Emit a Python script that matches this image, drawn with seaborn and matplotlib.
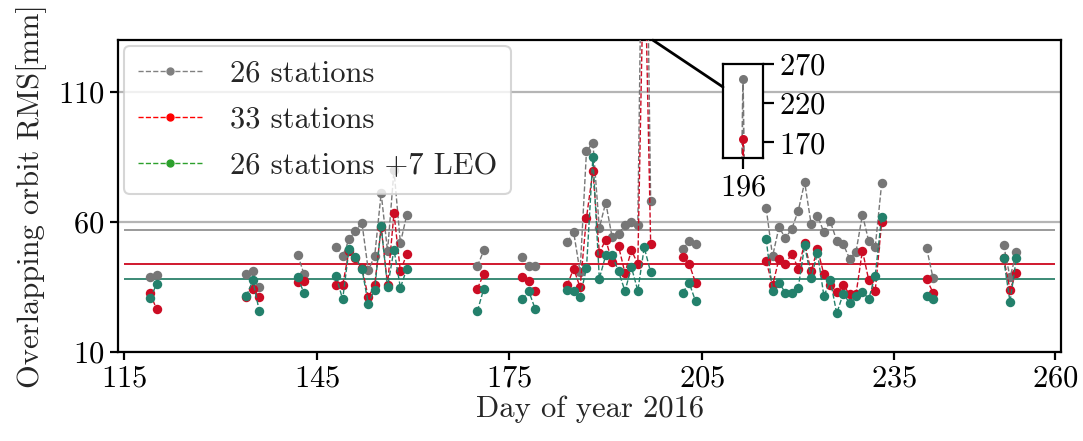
import numpy as np
import pandas as pd
import matplotlib
matplotlib.use("Agg")
import matplotlib.pyplot as plt
from matplotlib.patches import ConnectionPatch
from matplotlib.lines import Line2D
import seaborn as sns

# ---------------- data ----------------
days = [119, 120,
        134, 135, 136,
        142, 143,
        148, 149, 150, 151, 152, 153, 154, 155, 156, 157, 158, 159,
        170, 171,
        177, 178, 179,
        184, 185, 186, 187, 188, 189, 190, 191, 192, 193, 194, 195, 196, 197,
        202, 203, 204,
        215, 216, 217, 218, 219, 220, 221, 222, 223, 224, 225, 226, 227, 228, 229, 230, 231, 232, 233,
        240, 241,
        252, 253, 254]

rms_26 = [38.7, 39.5,
          39.8, 41.3, 34.8,
          47.4, 39.8,
          50.2, 46.8, 53.4, 56.4, 59.8, 41.4, 47.0, 71.1, 48.7, 80.0, 51.9, 62.8,
          43.0, 49.1,
          46.4, 43.0, 43.0,
          52.3, 56.1, 40.8, 87.3, 90.5, 57.7, 67.5, 54.1, 55.4, 58.9, 60.0, 58.9, 251.0, 68.2,
          49.7, 52.5, 51.5,
          65.3, 46.8, 58.0, 53.8, 57.4, 64.3, 75.3, 59.3, 62.5, 56.0, 60.2, 52.8, 51.5, 45.9, 48.5, 62.8, 52.5, 50.4, 74.9,
          50.0, 38.5,
          51.3, 38.7, 48.3]

rms_33 = [32.5, 26.5,
          31.1, 34.3, 31.1,
          37.0, 37.2,
          35.9, 35.6, 49.0, 46.0, 42.3, 31.0, 35.6, 58.0, 35.9, 63.4, 41.0, 47.7,
          34.4, 40.0,
          38.7, 37.2, 33.4,
          35.7, 42.1, 34.9, 61.7, 79.6, 48.1, 53.2, 44.6, 50.6, 40.4, 49.1, 43.9, 174.0, 51.6,
          46.4, 43.9, 36.6,
          44.9, 35.6, 45.8, 43.9, 47.8, 42.1, 51.9, 41.0, 49.6, 39.8, 35.6, 33.0, 35.9, 32.1, 32.2, 49.0, 37.5, 33.6, 60.0,
          38.1, 32.8,
          46.2, 34.0, 40.4]

rms_26_leo = [30.6, 36.0,
              31.5, 37.5, 25.9,
              38.7, 32.5,
              39.1, 30.2, 49.6, 46.4, 42.0, 28.5, 34.0, 58.5, 34.9, 49.4, 34.7, 42.0,
              25.7, 34.4,
              30.2, 33.4, 26.6,
              34.0, 33.4, 31.1, 42.3, 85.1, 38.2, 47.2, 47.2, 41.0, 33.4, 42.6, 33.6, 50.2, 40.7,
              32.8, 36.6, 29.5,
              53.4, 33.4, 36.6, 32.8, 32.6, 34.7, 51.0, 38.5, 48.1, 31.5, 37.5, 24.8, 32.4, 28.9, 31.7, 33.0, 30.5, 39.4, 62.1,
              31.7, 30.2,
              46.0, 29.3, 46.2]

series_names = ["26 stations", "33 stations", "26 stations +7 LEO"]
mean_values = [57.0, 43.9, 38.0]
x_ticks = [115, 145, 175, 205, 235, 260]
y_ticks = [10, 60, 110]
inset_day = [196]
inset_yticks = [170, 220, 270]

# ---------------- style ----------------
sns.set_style("ticks")
plt.rcParams["font.family"] = ["cmr10", "DejaVu Serif"]
plt.rcParams["mathtext.fontset"] = "cm"
plt.rcParams["axes.formatter.use_mathtext"] = True
FS = 22
plt.rcParams["font.size"] = FS

plot_colors = ["#767676", "#cc0c24", "#23806b"]
legend_colors = ["#808080", "#ff0000", "#2ca02c"]
mean_colors = ["#9a9a9a", "#d0182e", "#3b8a76"]

seg = np.concatenate([[0], np.cumsum(np.diff(days) > 1)])
frames = []
for name, vals in zip(series_names, [rms_26, rms_33, rms_26_leo]):
    frames.append(pd.DataFrame({"day": days, "rms": vals, "series": name, "seg": seg}))
df = pd.concat(frames, ignore_index=True)

fig = plt.figure(figsize=(10.83, 4.41), dpi=100)
ax = fig.add_axes([0.109, 0.202, 0.871, 0.707])

for name, col in zip(series_names, plot_colors):
    sub = df[df["series"] == name]
    sns.lineplot(data=sub, x="day", y="rms", units="seg", estimator=None,
                 color=col, linestyle="--", linewidth=1.0, marker="o",
                 markersize=6.8, markeredgewidth=0, ax=ax, legend=False, zorder=3)

ax.set_xlim(114, 261)
ax.set_ylim(10, 130)
ax.set_xticks(x_ticks)
ax.set_yticks(y_ticks)
ax.yaxis.grid(True, color="#b5b5b5", linewidth=1.6, zorder=0)
for m, c in zip(mean_values, mean_colors):
    ax.hlines(m, 115, 260, color=c, linewidth=1.4, zorder=2)

for s in ax.spines.values():
    s.set_linewidth(1.6)
    s.set_color("black")
ax.tick_params(axis="both", direction="out", length=6, width=1.6, labelsize=FS, colors="black")
ax.set_xlabel("Day of year 2016", fontsize=FS, labelpad=2)
ax.set_ylabel("Overlapping orbit RMS[mm]", fontsize=FS, labelpad=8)

handles = [Line2D([0], [0], color=c, linestyle="--", linewidth=1.0, marker="o", markersize=5)
           for c in legend_colors]
leg = ax.legend(handles, series_names, loc="upper left", fontsize=FS, frameon=True,
                framealpha=0.8, edgecolor="#cccccc", fancybox=True,
                handlelength=2.1, handletextpad=0.9, borderpad=0.45, labelspacing=0.62,
                borderaxespad=0.2)
leg.get_frame().set_linewidth(1.5)

# ---------------- inset ----------------
axi = fig.add_axes([0.6676, 0.6417, 0.0369, 0.2132])
for name, col in zip(series_names[:2], plot_colors[:2]):
    sub = df[df["series"] == name]
    sns.lineplot(data=sub, x="day", y="rms", units="seg", estimator=None,
                 color=col, linestyle="--", linewidth=1.2, marker="o",
                 markersize=6.5, markeredgewidth=0, ax=axi, legend=False)
axi.set_xlim(186, 206)
axi.set_ylim(150, 270)
axi.set_xticks(inset_day)
axi.set_yticks(inset_yticks)
axi.yaxis.tick_right()
axi.set_xlabel("")
axi.set_ylabel("")
axi.grid(False)
axi.set_facecolor("white")
for s in axi.spines.values():
    s.set_linewidth(1.6)
    s.set_color("black")
axi.tick_params(axis="both", direction="out", length=8, width=1.6, labelsize=FS, colors="black")

con = ConnectionPatch(xyA=(0.567, 1.0), coordsA=ax.transAxes,
                      xyB=(0.0, 0.755), coordsB=axi.transAxes,
                      color="black", linewidth=2.0)
fig.add_artist(con)

fig.savefig("out.png", dpi=100)
